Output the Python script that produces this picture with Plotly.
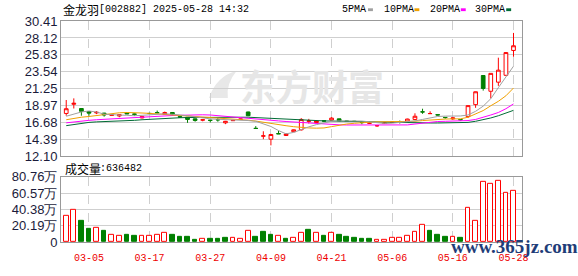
import plotly.graph_objects as go

# ---------------- data ----------------
dates = ["02-28", "03-03", "03-04", "03-05", "03-06", "03-07", "03-10", "03-11", "03-12", "03-13",
         "03-14", "03-17", "03-18", "03-19", "03-20", "03-21", "03-24", "03-25", "03-26", "03-27",
         "03-28", "03-31", "04-01", "04-02", "04-03", "04-07", "04-08", "04-09", "04-10", "04-11",
         "04-14", "04-15", "04-16", "04-17", "04-18", "04-21", "04-22", "04-23", "04-24", "04-25",
         "04-28", "04-29", "04-30", "05-06", "05-07", "05-08", "05-09", "05-12", "05-13", "05-14",
         "05-15", "05-16", "05-19", "05-20", "05-21", "05-22", "05-23", "05-26", "05-27", "05-28"]

opens = [17.91, 19.15, 18.58, 18.17, 17.98, 17.95, 17.66, 17.57, 18.00, 17.84,
         17.31, 17.92, 18.04, 17.78, 18.04, 17.47, 17.40, 17.18, 17.00, 17.00,
         17.07, 16.64, 16.93, 17.12, 18.11, 15.90, 14.84, 14.43, 15.20, 14.93,
         15.44, 15.70, 16.85, 16.68, 16.92, 17.02, 17.18, 16.88, 16.86, 16.70,
         16.58, 16.24, 16.55, 16.68, 16.82, 16.77, 17.10, 18.13, 17.88, 17.75,
         17.38, 17.18, 17.08, 17.48, 19.10, 23.04, 20.91, 22.14, 23.07, 26.43]
highs = [19.73, 19.95, 18.62, 18.20, 18.24, 18.00, 17.82, 17.75, 18.05, 17.90,
         17.50, 18.00, 18.30, 18.16, 18.06, 17.50, 17.42, 17.22, 17.08, 17.02,
         17.28, 16.90, 17.00, 17.18, 18.15, 16.20, 15.50, 15.15, 15.57, 15.22,
         15.75, 17.28, 17.18, 16.95, 17.00, 17.40, 17.20, 16.92, 16.90, 16.75,
         16.62, 16.30, 16.65, 16.80, 16.95, 17.20, 17.93, 18.55, 18.20, 17.78,
         17.40, 17.38, 17.15, 18.97, 20.87, 23.04, 23.33, 25.45, 26.20, 28.80]
lows = [17.60, 18.58, 17.60, 17.60, 17.82, 17.48, 17.62, 17.40, 17.82, 17.60,
        17.23, 17.85, 17.95, 17.75, 17.60, 17.30, 16.64, 16.80, 16.85, 16.70,
        16.80, 16.46, 16.90, 17.08, 17.55, 15.88, 14.43, 13.60, 15.15, 14.90,
        15.40, 15.60, 16.55, 16.60, 16.75, 16.98, 16.85, 16.80, 16.78, 16.45,
        16.50, 16.10, 16.50, 16.65, 16.55, 16.75, 17.00, 17.86, 17.85, 17.65,
        17.20, 17.05, 16.95, 17.30, 18.67, 21.00, 19.95, 21.64, 23.00, 25.58]
closes = [18.55, 19.28, 18.20, 17.95, 18.06, 17.70, 17.70, 17.74, 17.86, 17.80,
          17.48, 17.90, 18.00, 18.04, 17.78, 17.43, 17.10, 16.97, 17.06, 16.97,
          17.05, 16.85, 16.97, 17.15, 17.60, 15.88, 14.88, 15.06, 15.15, 15.12,
          15.70, 17.10, 16.90, 16.89, 16.88, 17.28, 16.90, 16.85, 16.83, 16.68,
          16.60, 16.26, 16.60, 16.72, 16.80, 17.15, 17.53, 18.11, 17.90, 17.70,
          17.35, 17.30, 17.06, 18.97, 20.84, 21.29, 23.33, 23.76, 26.14, 27.06]

ma5 = [17.53, 17.85, 18.11, 18.24, 18.10, 17.82, 17.72, 17.69, 17.66, 17.60,
       17.66, 17.73, 17.80, 17.86, 17.80, 17.72, 17.60, 17.45, 17.30, 17.18,
       17.12, 17.08, 17.10, 17.05, 16.95, 16.85, 16.50, 16.15, 15.60, 15.15,
       15.35, 15.75, 16.10, 16.40, 16.65, 16.85, 16.90, 16.90, 16.90, 16.88,
       16.78, 16.62, 16.55, 16.60, 16.68, 16.77, 16.90, 17.10, 17.35, 17.50,
       17.55, 17.55, 17.57, 17.70, 18.20, 18.90, 19.90, 21.40, 22.90, 24.30]
ma10 = [17.06, 17.25, 17.40, 17.50, 17.62, 17.80, 17.95, 18.00, 18.04, 18.04,
        17.97, 17.92, 17.85, 17.78, 17.72, 17.66, 17.60, 17.55, 17.48, 17.40,
        17.30, 17.20, 17.15, 17.11, 17.00, 16.88, 16.70, 16.52, 16.38, 16.25,
        16.12, 16.00, 15.95, 15.92, 15.95, 16.13, 16.35, 16.48, 16.58, 16.68,
        16.72, 16.77, 16.77, 16.77, 16.77, 16.80, 16.85, 16.95, 17.05, 17.11,
        17.15, 17.18, 17.18, 17.40, 17.85, 18.30, 18.95, 19.55, 20.30, 21.35]
ma20 = [16.64, 16.78, 16.90, 16.98, 17.06, 17.12, 17.18, 17.25, 17.31, 17.40,
        17.48, 17.52, 17.56, 17.60, 17.63, 17.66, 17.70, 17.72, 17.73, 17.70,
        17.60, 17.50, 17.40, 17.35, 17.30, 17.20, 17.08, 16.97, 16.90, 16.82,
        16.75, 16.66, 16.58, 16.50, 16.44, 16.40, 16.37, 16.35, 16.34, 16.33,
        16.32, 16.31, 16.31, 16.32, 16.32, 16.36, 16.48, 16.62, 16.75, 16.82,
        16.85, 16.87, 16.88, 16.95, 17.10, 17.35, 17.70, 18.04, 18.55, 19.20]
ma30 = [16.26, 16.42, 16.64, 16.70, 16.77, 16.80, 16.85, 16.88, 16.93, 16.98,
        17.06, 17.12, 17.20, 17.28, 17.30, 17.33, 17.36, 17.38, 17.40, 17.40,
        17.40, 17.40, 17.40, 17.40, 17.40, 17.35, 17.25, 17.15, 17.10, 17.05,
        17.00, 16.97, 16.94, 16.92, 16.90, 16.88, 16.86, 16.85, 16.80, 16.75,
        16.70, 16.68, 16.67, 16.66, 16.65, 16.64, 16.63, 16.62, 16.62, 16.62,
        16.62, 16.63, 16.65, 16.70, 16.85, 17.05, 17.30, 17.60, 17.95, 18.33]

# volume in 万 (10k shares); vol_up: 1 = red (up vs previous close), 0 = green
volume = [33.0, 40.0, 25.9, 16.8, 17.6, 13.3, 8.6, 7.4, 8.6, 7.4,
          7.4, 7.4, 9.4, 11.8, 8.6, 6.2, 6.2, 2.7, 3.9, 3.9,
          3.9, 5.1, 4.7, 3.5, 14.1, 6.2, 12.1, 9.0, 7.1, 3.9,
          4.7, 10.9, 15.7, 10.9, 7.4, 11.8, 9.4, 6.2, 5.1, 3.9,
          3.9, 2.7, 3.1, 4.7, 4.7, 7.1, 12.9, 21.2, 14.1, 9.4,
          6.2, 5.9, 4.7, 42.4, 25.9, 74.2, 71.8, 75.4, 61.2, 63.6482]
vol_up = [1, 1, 0, 0, 1, 0, 1, 1, 0, 0,
          1, 1, 1, 1, 0, 0, 0, 0, 1, 0,
          0, 0, 1, 1, 1, 0, 0, 0, 1, 0,
          1, 1, 0, 1, 0, 1, 0, 0, 0, 0,
          0, 1, 1, 1, 1, 1, 1, 1, 0, 0,
          0, 1, 0, 1, 1, 1, 1, 1, 1, 1]

price_ticks = [12.10, 14.39, 16.68, 18.97, 21.25, 23.54, 25.83, 28.12, 30.41]
vol_ticks = [0, 20.19, 40.38, 60.57, 80.76]
vol_tick_text = ["0", "20.19万", "40.38万", "60.57万", "80.76万"]
label_idx = [3, 11, 19, 27, 35, 43, 51, 59]

title_cn = "金龙羽"
title_rest = "[002882] 2025-05-28 14:32"
vol_title = "成交量"
vol_value = ":636482"
ma_names = ["5PMA", "10PMA", "20PMA", "30PMA"]

# ---------------- style ----------------
RED = "#ff0000"
GREEN = "#008000"
MA_COLORS = ["#a0a0a0", "#f0a000", "#ff00ff", "#006b35"]
FRAME = "#999999"
GRID = "#cfcfcf"
W, H = 578, 276
ML, MR, MT, MB = 55, 56, 21, 20
PW, PH = W - ML - MR, H - MT - MB


def px_x(px):
    return (px - ML) / PW


def px_y(py):
    return (H - MB - py) / PH


x = list(range(len(dates)))

fig = go.Figure()

for vals, col in zip([ma30, ma20, ma10, ma5], MA_COLORS[::-1]):
    fig.add_trace(go.Scatter(x=x, y=vals, mode="lines", line=dict(color=col, width=1),
                             hoverinfo="skip", showlegend=False, xaxis="x", yaxis="y"))

fig.add_trace(go.Candlestick(
    x=x, open=opens, high=highs, low=lows, close=closes,
    increasing=dict(line=dict(color=RED, width=1), fillcolor="white"),
    decreasing=dict(line=dict(color=GREEN, width=1), fillcolor=GREEN),
    whiskerwidth=0, showlegend=False, hoverinfo="skip", xaxis="x", yaxis="y"))

up_x = [i for i in x if vol_up[i]]
dn_x = [i for i in x if not vol_up[i]]
fig.add_trace(go.Bar(x=up_x, y=[volume[i] for i in up_x], width=0.62,
                     marker=dict(color="white", line=dict(color=RED, width=1)),
                     hoverinfo="skip", showlegend=False, xaxis="x2", yaxis="y2"))
fig.add_trace(go.Bar(x=dn_x, y=[volume[i] for i in dn_x], width=0.62,
                     marker=dict(color=GREEN, line=dict(color=GREEN, width=1)),
                     hoverinfo="skip", showlegend=False, xaxis="x2", yaxis="y2"))

xr = [-0.69, 60.12]
common_x = dict(range=xr, tickvals=label_idx, showgrid=True, gridcolor=GRID, griddash="dash",
                gridwidth=1, showline=True, mirror=True, linecolor=FRAME, linewidth=1,
                zeroline=False, ticks="", fixedrange=True)
tick_font_y = dict(family="Liberation Sans, Arial", size=13, color="#1a1a3a")

fig.update_layout(
    width=W, height=H, margin=dict(l=ML, r=MR, t=MT, b=MB),
    paper_bgcolor="white", plot_bgcolor="white", bargap=0,
    xaxis=dict(domain=[0, 1], anchor="y", showticklabels=False,
               rangeslider=dict(visible=False), **common_x),
    yaxis=dict(domain=[px_y(165), 1], range=[price_ticks[0], price_ticks[-1]],
               tickvals=price_ticks, ticktext=[f"{v:.2f}" for v in price_ticks],
               showgrid=True, gridcolor=GRID, showline=True, mirror=True, linecolor=FRAME,
               zeroline=False, ticks="", tickfont=tick_font_y, fixedrange=True),
    xaxis2=dict(domain=[0, 1], anchor="y2", matches="x",
                ticktext=[dates[i] for i in label_idx], ticklabelstandoff=6,
                tickfont=dict(family="Liberation Mono", size=10, color="#ee0000"),
                **common_x),
    yaxis2=dict(domain=[0, px_y(186.7)], range=[vol_ticks[0], vol_ticks[-1]],
                tickvals=vol_ticks, ticktext=vol_tick_text,
                showgrid=True, gridcolor=GRID, showline=True, mirror=True, linecolor=FRAME,
                zeroline=False, ticks="", tickfont=tick_font_y, fixedrange=True),
)

ann = []
ann.append(dict(text=title_cn, x=px_x(55), y=px_y(9), xref="paper", yref="paper",
                xanchor="left", yanchor="middle", showarrow=False,
                font=dict(family="Noto Sans CJK SC", size=12, color="#000")))
ann.append(dict(text=title_rest, x=px_x(91.5), y=px_y(9), xref="paper", yref="paper",
                xanchor="left", yanchor="middle", showarrow=False,
                font=dict(family="Liberation Mono", size=10, color="#000")))
ann.append(dict(text=vol_title, x=px_x(57), y=px_y(177.5), xref="paper", yref="paper",
                xanchor="left", yanchor="middle", showarrow=False,
                font=dict(family="Noto Sans CJK SC", size=12, color="#000")))
ann.append(dict(text=vol_value, x=px_x(92.5), y=px_y(177.5), xref="paper", yref="paper",
                xanchor="left", yanchor="middle", showarrow=False,
                font=dict(family="Liberation Mono", size=10, color="#000")))

legend_text_x = [338, 380.5, 426.5, 472.5]
legend_sq_x = [366, 413, 460, 506]
shapes = []
for name, tx, sx, col in zip(ma_names, legend_text_x, legend_sq_x, MA_COLORS):
    ann.append(dict(text=name, x=px_x(tx), y=px_y(9), xref="paper", yref="paper",
                    xanchor="left", yanchor="middle", showarrow=False,
                    font=dict(family="Liberation Mono", size=10, color="#000")))
    shapes.append(dict(type="rect", xref="paper", yref="paper",
                       x0=px_x(sx), x1=px_x(sx + 5), y0=px_y(10.5), y1=px_y(7.5),
                       fillcolor=col, line=dict(width=0)))

# watermarks
ann.append(dict(text="东方财富", x=px_x(309), y=px_y(89), xref="paper", yref="paper",
                xanchor="center", yanchor="middle", showarrow=False,
                font=dict(family="Noto Sans CJK SC", size=36, color="#e6e6e6", weight=700)))
shapes.append(dict(type="path", xref="paper", yref="paper", layer="below",
                   path="M {} {} Q {} {} {} {} Q {} {} {} {} Z".format(
                       px_x(205), px_y(103), px_x(212), px_y(80), px_x(233), px_y(74),
                       px_x(222), px_y(88), px_x(224), px_y(103)),
                   fillcolor="#e8e8e8", line=dict(width=0)))
ann.append(dict(text="<b>www.365jz.com</b>", x=px_x(514), y=px_y(261), xref="paper", yref="paper",
                xanchor="center", yanchor="middle", showarrow=False,
                font=dict(family="Liberation Serif", size=19, color="#1f3d78")))

fig.update_layout(annotations=ann, shapes=shapes)

fig.write_html("out.html")
